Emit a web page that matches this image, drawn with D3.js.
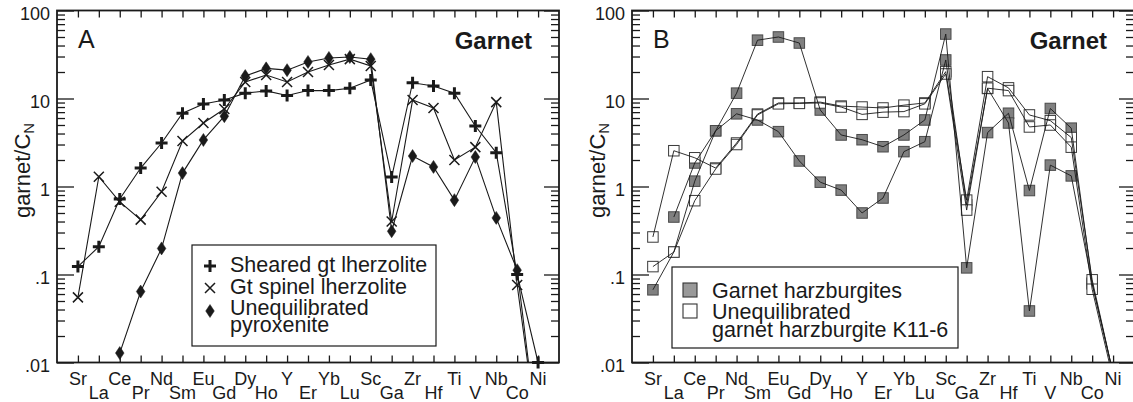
<!DOCTYPE html>
<html>
<head>
<meta charset="utf-8">
<script src="https://cdn.jsdelivr.net/npm/d3@7"></script>
<style>
  body { margin: 0; background: #fff; }
  svg { display: block; font-family: "Liberation Sans", Arial, Helvetica, sans-serif; }
</style>
</head>
<body>
<svg id="chart" width="1133" height="402"></svg>
<script>
// elements along the x axis
const elements = ["Sr", "La", "Ce", "Pr", "Nd", "Sm", "Eu", "Gd", "Dy", "Ho", "Y", "Er",
                  "Yb", "Lu", "Sc", "Ga", "Zr", "Hf", "Ti", "V", "Nb", "Co", "Ni"];

const yTickValues = [0.01, 0.1, 1, 10, 100];
const yTickLabels = [".01", ".1", "1", "10", "100"];

// panel A - garnet/CN
const shearedGtLherzolite = [0.123, 0.207, 0.72, 1.62, 3.12, 6.8, 8.66, 9.6, 11.5, 12.2, 10.8, 12.3,
                             12.3, 13.1, 16.2, 1.28, 15.1, 13.9, 11.5, 4.87, 2.42, 0.10, 0.0100];
const gtSpinelLherzolite = [0.055, 1.29, 0.67, 0.42, 0.87, 3.29, 5.27, 7.6, 15.4, 18.5, 15.4, 20,
                            24, 28, 23.4, 0.40, 9.6, 7.8, 2.0, 2.8, 9.1, 0.076, 0.0013];
const unequilibratedPyroxenite = [null, null, 0.0128, 0.064, 0.198, 1.42, 3.38, 6.3, 18, 22, 21, 26,
                                  28.9, 29.6, 28, 0.31, 2.22, 1.67, 0.70, 2.16, 0.44, 0.112, 0.0013];

// panel B - garnet harzburgites (grey) and K11-6 (open)
const harzburgite1 = [0.067, 0.18, 1.15, 4.3, 11.5, 46, 50, 42.7, 7.4, 3.85, 3.4, 2.83,
                      3.85, 5.7, 54, 0.119, 4.1, 6.8, 0.9, 7.7, 4.6, 0.08, 0.0075];
const harzburgite2 = [null, 0.45, 1.85, 4.3, 6.7, 5.7, 4.2, 1.95, 1.12, 0.91, 0.50, 0.74,
                      2.49, 3.23, 27.4, 0.62, 13, 5.27, 0.0385, 1.75, 1.32, 0.078, 0.0075];
const k116a = [0.267, 2.55, 2.12, 1.62, 3.12, 6.65, 8.9, 8.9, 9.1, 8.2, 8.0, 7.8,
               8.4, 8.9, 20.2, 0.70, 17.7, 13.2, 6.5, 5.6, 3.6, 0.087, 0.0075];
const k116b = [0.123, 0.18, 0.69, 1.58, 3.0, 6.5, 8.7, 8.8, 8.9, 8.0, 6.6, 7.0,
               7.1, 8.7, 19, 0.54, 13.1, 12.3, 4.75, 5.0, 2.8, 0.068, 0.0065];

const svg = d3.select("#chart");
const marginTop = 10.5, W = 502, H = 352;
const ink = "#1a1a1a";

const markerPaths = {
    plus: "M-6,0H6M0,-6V6",
    cross: "M-5,-5L5,5M-5,5L5,-5",
    diamond: "M0,-6.5L4.3,0L0,6.5L-4.3,0Z"
};

function makePanel(left, id, letter) {
    const g = svg.append("g").attr("transform", `translate(${left},${marginTop})`);
    const x = d3.scalePoint().domain(elements).range([0, W]).padding(1);
    const y = d3.scaleLog().domain([0.01, 100]).range([H, 0]);

    g.append("clipPath").attr("id", "clip" + id)
        .append("rect").attr("width", W).attr("height", H);

    const minor = y.ticks().filter(d => !yTickValues.some(v => Math.abs(v - d) < 1e-9));

    const styleAxis = s => {
        s.select(".domain").remove();
        s.selectAll("line").attr("stroke", ink).attr("stroke-width", 1.3);
    };

    g.append("g").call(d3.axisLeft(y).tickValues(minor).tickSize(-8).tickFormat("")).call(styleAxis);
    g.append("g").attr("transform", `translate(${W},0)`)
        .call(d3.axisRight(y).tickValues(minor).tickSize(-8).tickFormat("")).call(styleAxis);
    g.append("g").attr("transform", `translate(${W},0)`)
        .call(d3.axisRight(y).tickValues(yTickValues).tickSize(-15).tickFormat("")).call(styleAxis);

    const leftAxis = g.append("g")
        .call(d3.axisLeft(y).tickValues(yTickValues).tickSize(-17).tickPadding(7)
            .tickFormat((d, i) => yTickLabels[i]))
        .call(styleAxis);
    leftAxis.selectAll("text").attr("dy", "0.52em").attr("fill", ink)
        .style("font-size", "18px").style("font-family", "Liberation Sans, Arial, sans-serif");

    g.append("g").call(d3.axisTop(x).tickSize(-7).tickFormat("")).call(styleAxis);
    g.append("g").attr("transform", `translate(0,${H})`)
        .call(d3.axisBottom(x).tickSize(-7).tickFormat("")).call(styleAxis);

    g.append("rect").attr("width", W).attr("height", H)
        .attr("fill", "none").attr("stroke", ink).attr("stroke-width", 1.8);

    g.selectAll("text.cat").data(elements).join("text")
        .attr("class", "cat")
        .attr("x", d => x(d))
        .attr("y", (d, i) => i % 2 === 0 ? H + 22.5 : H + 36)
        .attr("text-anchor", "middle")
        .attr("fill", ink)
        .style("font-size", "18px")
        .text(d => d);

    const yl = g.append("text")
        .attr("transform", `translate(-27.5,${160}) rotate(-90)`)
        .attr("text-anchor", "middle")
        .attr("fill", ink)
        .style("font-size", "22px");
    yl.append("tspan").text("garnet/C");
    yl.append("tspan").attr("dy", "0.3em").style("font-size", "15px").text("N");

    g.append("text").attr("x", 21).attr("y", 37.5).attr("fill", ink)
        .style("font-size", "25px").text(letter);
    g.append("text").attr("x", W - 27).attr("y", 38.5).attr("text-anchor", "end")
        .attr("fill", ink).style("font-size", "24px").style("font-weight", "bold").text("Garnet");

    return {g, x, y};
}

const line = (x, y) => d3.line()
    .defined(d => d != null)
    .x((d, i) => x(elements[i]))
    .y(d => y(d));

// ---------- Panel A ----------
{
    const {g, x, y} = makePanel(57, "A", "A");
    const seriesA = [
        {values: shearedGtLherzolite, marker: "plus", label: "Sheared gt lherzolite"},
        {values: gtSpinelLherzolite, marker: "cross", label: "Gt spinel lherzolite"},
        {values: unequilibratedPyroxenite, marker: "diamond", label: "Unequilibrated"}
    ];

    seriesA.forEach(s => {
        g.append("path").datum(s.values)
            .attr("clip-path", "url(#clipA)")
            .attr("fill", "none").attr("stroke", ink).attr("stroke-width", 1.1)
            .attr("d", line(x, y));
    });

    seriesA.forEach(s => {
        const pts = s.values.map((v, i) => ({v, e: elements[i]})).filter(p => p.v != null && p.v >= 0.01);
        g.selectAll(null).data(pts).join("path")
            .attr("transform", p => `translate(${x(p.e)},${y(p.v)})`)
            .attr("d", markerPaths[s.marker])
            .attr("fill", s.marker === "diamond" ? ink : "none")
            .attr("stroke", ink)
            .attr("stroke-width", s.marker === "plus" ? 3 : s.marker === "cross" ? 1.5 : 0.5);
    });

    // legend
    const lg = g.append("g");
    lg.append("rect").attr("x", 135).attr("y", 234.5).attr("width", 244).attr("height", 101)
        .attr("fill", "#fff").attr("stroke", ink).attr("stroke-width", 1.2);
    const rowsY = [255.5, 277.5, 300.5];
    const textY = [261.5, 283, 304.5];
    seriesA.forEach((s, i) => {
        lg.append("path").attr("transform", `translate(153,${rowsY[i]})`)
            .attr("d", markerPaths[s.marker])
            .attr("fill", s.marker === "diamond" ? ink : "none")
            .attr("stroke", ink)
            .attr("stroke-width", s.marker === "plus" ? 3 : s.marker === "cross" ? 1.5 : 0.5);
        lg.append("text").attr("x", 173).attr("y", textY[i]).attr("fill", ink)
            .style("font-size", "21.5px").text(s.label);
    });
    lg.append("text").attr("x", 173).attr("y", 321.5).attr("fill", ink)
        .style("font-size", "21.5px").text("pyroxenite");
}

// ---------- Panel B ----------
{
    const {g, x, y} = makePanel(632, "B", "B");
    const grey = {fill: "#808080", stroke: "#4a4a4a"};
    const open = {fill: "#fff", stroke: "#3a3a3a"};
    const seriesB = [
        {values: harzburgite1, style: grey},
        {values: harzburgite2, style: grey},
        {values: k116a, style: open},
        {values: k116b, style: open}
    ];
    const sz = 10.5;

    seriesB.forEach(s => {
        const pts = s.values.map((v, i) => ({v, e: elements[i]})).filter(p => p.v != null && p.v >= 0.01);
        g.selectAll(null).data(pts).join("rect")
            .attr("x", p => x(p.e) - sz / 2)
            .attr("y", p => y(p.v) - sz / 2)
            .attr("width", sz).attr("height", sz)
            .attr("fill", s.style.fill).attr("stroke", s.style.stroke).attr("stroke-width", 1);
    });

    seriesB.forEach(s => {
        g.append("path").datum(s.values)
            .attr("clip-path", "url(#clipB)")
            .attr("fill", "none").attr("stroke", ink).attr("stroke-width", 0.9)
            .attr("d", line(x, y));
    });

    // legend
    const lg = g.append("g");
    lg.append("rect").attr("x", 40).attr("y", 256.5).attr("width", 286).attr("height", 81)
        .attr("fill", "#fff").attr("stroke", ink).attr("stroke-width", 1.2);
    lg.append("rect").attr("x", 51).attr("y", 272.5).attr("width", 14).attr("height", 14)
        .attr("fill", "#999").attr("stroke", "#333").attr("stroke-width", 1.1);
    lg.append("rect").attr("x", 51).attr("y", 293.5).attr("width", 14).attr("height", 14)
        .attr("fill", "#fff").attr("stroke", "#333").attr("stroke-width", 1.1);
    lg.append("text").attr("x", 80).attr("y", 287.5).attr("fill", ink)
        .style("font-size", "21.5px").text("Garnet harzburgites");
    lg.append("text").attr("x", 80).attr("y", 308.5).attr("fill", ink)
        .style("font-size", "21.5px").text("Unequilibrated");
    lg.append("text").attr("x", 80).attr("y", 326.5).attr("fill", ink)
        .style("font-size", "21.5px").text("garnet harzburgite K11-6");
}
</script>
</body>
</html>
